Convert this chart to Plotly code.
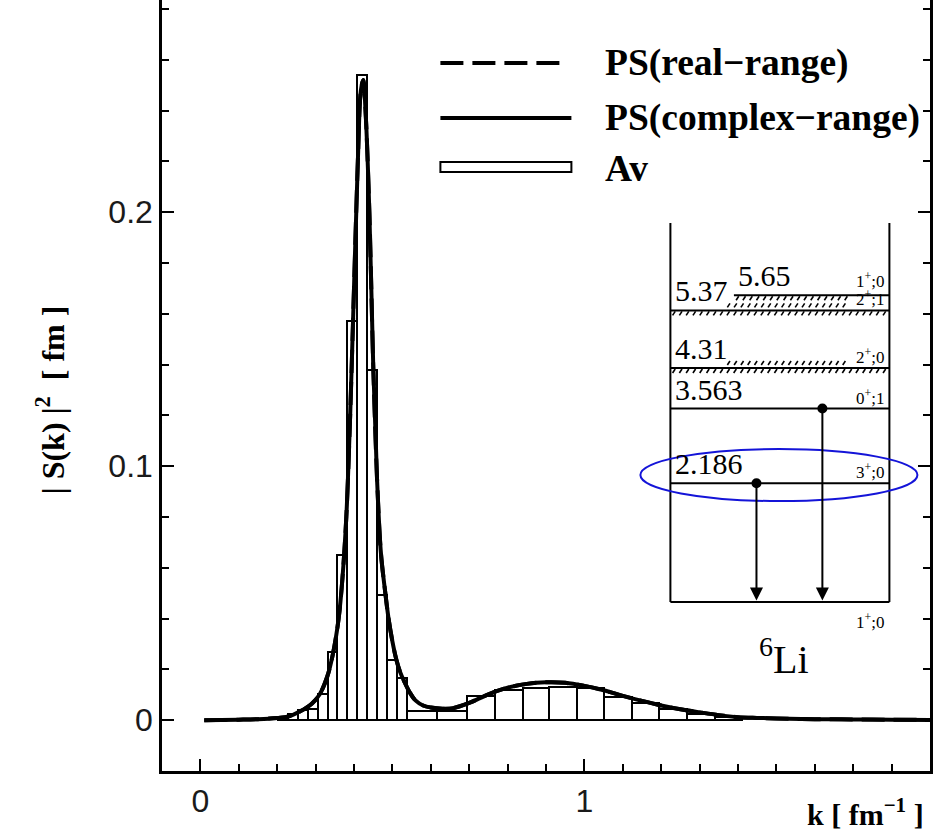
import plotly.graph_objects as go

# ---- |S(k)|^2 spectra: pseudo-state curves and averaged histogram ----
k_curve = [0.010, 0.100, 0.150, 0.200, 0.230, 0.260, 0.290, 0.310, 0.330, 0.345,
           0.360, 0.370, 0.380, 0.390, 0.400, 0.410, 0.418, 0.424, 0.430, 0.440,
           0.450, 0.460, 0.470, 0.480, 0.490, 0.500, 0.510, 0.520, 0.530, 0.545,
           0.560, 0.580, 0.600, 0.630, 0.660, 0.700, 0.750, 0.800, 0.850, 0.900,
           0.950, 1.000, 1.050, 1.100, 1.150, 1.200, 1.250, 1.300, 1.350, 1.400,
           1.450, 1.500, 1.600, 1.700, 1.800, 1.900]
s_complex = [0.0000, 0.0002, 0.0004, 0.0009, 0.0015, 0.0035, 0.0065, 0.0100, 0.0170, 0.0260,
             0.0400, 0.0560, 0.0800, 0.1200, 0.1700, 0.2200, 0.2480, 0.2520, 0.2400, 0.2000,
             0.1400, 0.0950, 0.0660, 0.0520, 0.0400, 0.0310, 0.0240, 0.0190, 0.0155, 0.0110,
             0.0078, 0.0058, 0.0050, 0.0045, 0.0048, 0.0068, 0.0102, 0.0128, 0.0143, 0.0149,
             0.0147, 0.0135, 0.0118, 0.0096, 0.0076, 0.0058, 0.0043, 0.0031, 0.0020, 0.0012,
             0.0009, 0.0007, 0.0004, 0.0003, 0.0002, 0.0001]
s_real = [0.0000, 0.0002, 0.0004, 0.0009, 0.0015, 0.0035, 0.0065, 0.0100, 0.0170, 0.0260,
          0.0400, 0.0560, 0.0800, 0.1200, 0.1700, 0.2200, 0.2480, 0.2520, 0.2400, 0.2000,
          0.1400, 0.0950, 0.0660, 0.0520, 0.0400, 0.0310, 0.0240, 0.0190, 0.0155, 0.0110,
          0.0078, 0.0058, 0.0050, 0.0045, 0.0048, 0.0068, 0.0102, 0.0128, 0.0143, 0.0149,
          0.0147, 0.0135, 0.0118, 0.0096, 0.0076, 0.0058, 0.0043, 0.0031, 0.0020, 0.0012,
          0.0009, 0.0007, 0.0004, 0.0003, 0.0002, 0.0001]

av_edges = [0.201, 0.227, 0.253, 0.279, 0.305, 0.331, 0.357, 0.383, 0.409, 0.435,
            0.461, 0.487, 0.513, 0.539, 0.617, 0.693, 0.766, 0.839, 0.909, 0.982,
            1.052, 1.125, 1.195, 1.268, 1.341, 1.411]
av_heights = [0.0010, 0.0025, 0.0040, 0.0046, 0.0105, 0.0270, 0.0650, 0.1570, 0.2540, 0.1380,
              0.0492, 0.0236, 0.0165, 0.0037, 0.0037, 0.0096, 0.0120, 0.0126, 0.0130, 0.0128,
              0.0090, 0.0066, 0.0044, 0.0024, 0.0013]

x_tick_vals = [0, 1]
x_tick_text = ["0", "1"]
y_tick_vals = [0, 0.1, 0.2]
y_tick_text = ["0", "0.1", "0.2"]

legend_labels = ["PS(real\u2212range)", "PS(complex\u2212range)", "Av"]

# ---- 6Li level scheme (MeV) ----
level_energy = [0.0, 2.186, 3.563, 4.31, 5.37, 5.65]
level_label = ["", "2.186", "3.563", "4.31", "5.37", "5.65"]
level_spin = ["1<sup>+</sup>;0", "3<sup>+</sup>;0", "0<sup>+</sup>;1",
              "2<sup>+</sup>;0", "2<sup>+</sup>;1", "1<sup>+</sup>;0"]
level_broad = [False, False, False, True, True, True]
gamma_from = [2.186, 3.563]
nucleus = "<sup>6</sup>Li"

SERIF = "Liberation Serif, Times New Roman, serif"
SANS = "Liberation Sans, Arial, sans-serif"

fig = go.Figure()

# averaged histogram
centers = [(a + b) / 2 for a, b in zip(av_edges[:-1], av_edges[1:])]
widths = [b - a for a, b in zip(av_edges[:-1], av_edges[1:])]
fig.add_trace(go.Bar(x=centers, y=av_heights, width=widths,
                     marker=dict(color="white", line=dict(color="black", width=2)),
                     showlegend=False))
fig.add_trace(go.Scatter(x=k_curve, y=s_real, mode="lines",
                         line=dict(color="black", width=4, dash="23px,9px", shape="spline"),
                         showlegend=False))
fig.add_trace(go.Scatter(x=k_curve, y=s_complex, mode="lines",
                         line=dict(color="black", width=4, shape="spline"),
                         showlegend=False))

# ---- inset: level diagram on its own overlay axes ----
XI = "x2"
YI = "y2"
top_e = 6.98
box_lw = 2

shapes = []
for u in (0.0, 1.0):
    shapes.append(dict(type="line", xref=XI, yref=YI, x0=u, x1=u, y0=0, y1=top_e,
                       line=dict(color="black", width=box_lw)))

hatch_x, hatch_y = [], []
px_e = 1 / 54.3  # one pixel in MeV on the inset scale


def hatch_row(e_base, u0, u1):
    u = u0
    while u < u1:
        hatch_x.extend([u, u + 0.012, None])
        hatch_y.extend([e_base, e_base + 4 * px_e, None])
        u += 0.031


annotations = []
for e, lab, spin, broad in zip(level_energy, level_label, level_spin, level_broad):
    start = 0.29 if e > 5.5 else 0.0
    shapes.append(dict(type="line", xref=XI, yref=YI, x0=start, x1=1.0, y0=e, y1=e,
                       line=dict(color="black", width=box_lw)))
    if broad:
        if e > 5.5:
            hatch_row(e - 5 * px_e, 0.30, 0.80)
        else:
            hatch_row(e - 5 * px_e, 0.01, 0.99)
            hatch_row(e + 3 * px_e, 0.26, 0.80)
    if lab:
        annotations.append(dict(xref=XI, yref=YI, x=start + 0.01, y=e + 1 * px_e, text=lab,
                                showarrow=False, xanchor="left", yanchor="bottom",
                                font=dict(family=SERIF, size=30, color="black")))
    if e == 0.0:
        annotations.append(dict(xref=XI, yref=YI, x=0.985, y=e - 6 * px_e, text=spin,
                                showarrow=False, xanchor="right", yanchor="top",
                                font=dict(family=SERIF, size=17, color="black")))
    else:
        annotations.append(dict(xref=XI, yref=YI, x=0.985,
                                y=e + (2 if e > 5.5 else -1) * px_e, text=spin,
                                showarrow=False, xanchor="right", yanchor="bottom",
                                font=dict(family=SERIF, size=17, color="black")))

fig.add_trace(go.Scatter(x=hatch_x, y=hatch_y, xaxis=XI, yaxis=YI, mode="lines",
                         line=dict(color="black", width=1.6), showlegend=False,
                         hoverinfo="skip"))

# gamma transitions to the ground state
gamma_u = [0.393, 0.694]
fig.add_trace(go.Scatter(x=gamma_u, y=gamma_from, xaxis=XI, yaxis=YI, mode="markers",
                         marker=dict(color="black", size=10), showlegend=False))
for u, e in zip(gamma_u, gamma_from):
    annotations.append(dict(xref=XI, yref=YI, axref=XI, ayref=YI, x=u, y=0.03, ax=u, ay=e,
                            text="", showarrow=True, arrowhead=2, arrowsize=1.3,
                            arrowwidth=2, arrowcolor="black"))

annotations.append(dict(xref=XI, yref=YI, x=0.52, y=-0.5, text=nucleus, showarrow=False,
                        xanchor="center", yanchor="top",
                        font=dict(family=SERIF, size=40, color="black")))

# highlight around the 3+ level
shapes.append(dict(type="circle", xref=XI, yref=YI, x0=-0.137, x1=1.128, y0=1.86, y1=2.818,
                   line=dict(color="#1414d8", width=2)))

# ---- legend drawn by hand ----
def py(px):
    return (771 - px) / 771


def pxx(px):
    return (px - 161.6) / 768


shapes.append(dict(type="line", xref="paper", yref="paper", x0=pxx(440), x1=pxx(565),
                   y0=py(63), y1=py(63), line=dict(color="black", width=4, dash="23px,9px")))
shapes.append(dict(type="line", xref="paper", yref="paper", x0=pxx(440), x1=pxx(571),
                   y0=py(118), y1=py(118), line=dict(color="black", width=4)))
shapes.append(dict(type="rect", xref="paper", yref="paper", x0=pxx(440), x1=pxx(571),
                   y0=py(172), y1=py(162), fillcolor="white", line=dict(color="black", width=2)))
for txt, ypx in zip(legend_labels, [63, 118, 168]):
    annotations.append(dict(xref="paper", yref="paper", x=pxx(603), y=py(ypx),
                            text="<b>" + txt + "</b>", showarrow=False,
                            xanchor="left", yanchor="middle",
                            font=dict(family=SERIF, size=37.5, color="black")))

# axis titles
annotations.append(dict(xref="paper", yref="paper", x=pxx(926), y=py(812),
                        text="<b>k [ fm<sup>\u22121</sup> ]</b>", showarrow=False,
                        xanchor="right", yanchor="middle",
                        font=dict(family=SERIF, size=30, color="black")))
annotations.append(dict(xref="paper", yref="paper", x=pxx(50), y=py(400),
                        text="<b>| S(k) |<sup>2</sup>  [ fm ]</b>", showarrow=False,
                        textangle=-90, xanchor="center", yanchor="middle",
                        font=dict(family=SERIF, size=32, color="black")))

fig.update_layout(
    width=944, height=833,
    margin=dict(l=162, r=14, t=0, b=62),
    paper_bgcolor="white", plot_bgcolor="white",
    bargap=0, barmode="overlay",
    shapes=shapes, annotations=annotations,
    xaxis=dict(range=[-0.1, 1.9], tickvals=x_tick_vals, ticktext=x_tick_text,
               ticks="inside", ticklen=12, tickwidth=2, tickcolor="black",
               minor=dict(dtick=0.1, tick0=0, ticks="inside", ticklen=7, tickwidth=2,
                          tickcolor="black"),
               showline=True, linewidth=2.5, linecolor="black", mirror=False,
               showgrid=False, zeroline=False,
               tickfont=dict(family=SANS, size=32, color="#1a1a1a")),
    yaxis=dict(range=[-0.02, 0.2835], tickvals=y_tick_vals, ticktext=y_tick_text,
               ticks="inside", ticklen=12, tickwidth=2, tickcolor="black",
               minor=dict(dtick=0.02, tick0=0, ticks="inside", ticklen=7, tickwidth=2,
                          tickcolor="black"),
               showline=True, linewidth=2.5, linecolor="black", mirror="ticks",
               showgrid=False, zeroline=False,
               tickfont=dict(family=SANS, size=32, color="#1a1a1a")),
    xaxis2=dict(overlaying="x", range=[-2.3215, 1.1854], visible=False),
    yaxis2=dict(overlaying="y", range=[-3.112, 11.087], visible=False),
)

fig.write_html("out.html")
